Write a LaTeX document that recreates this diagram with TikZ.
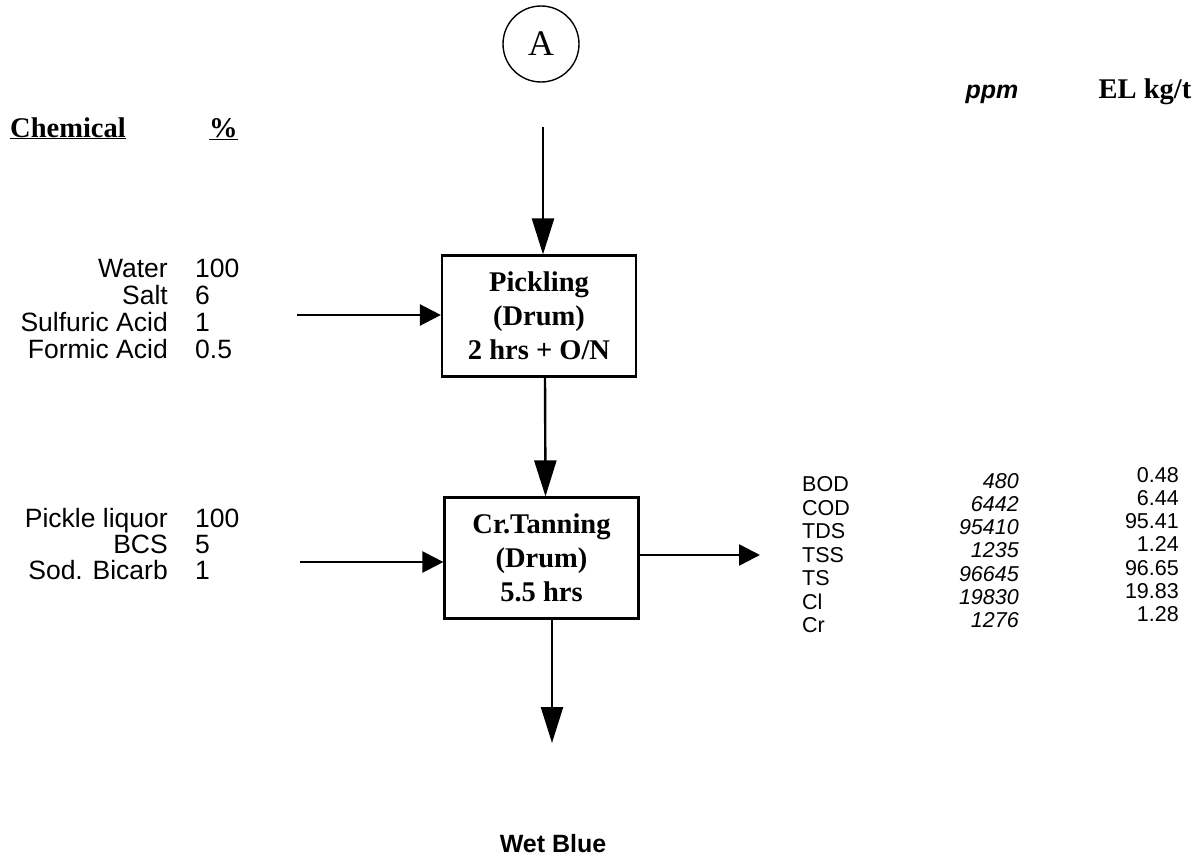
\documentclass[tikz,border=0pt]{standalone}
\usepackage{fontspec}
\setmainfont{Liberation Serif}
\setsansfont{Liberation Sans}
\usetikzlibrary{arrows.meta}
\begin{document}
\begin{tikzpicture}[x=1pt,y=-1pt,
  proc/.style={draw,line width=2.2pt,minimum width=194pt,minimum height=121pt,
    font=\fontsize{28.5}{34}\selectfont\bfseries,align=center,inner sep=0pt},
  vflow/.style={line width=2.4pt,-{Triangle[length=36pt,width=22pt]}},
  hflow/.style={line width=2.4pt,-{Triangle[length=21pt,width=21pt]}},
  lbl/.style={font=\sffamily\fontsize{26.5}{27}\selectfont,inner sep=0pt},
  tbl/.style={font=\sffamily\fontsize{21.5}{23}\selectfont,inner sep=0pt},
  tbli/.style={font=\sffamily\itshape\fontsize{21.5}{23}\selectfont,inner sep=0pt},
  hdr/.style={font=\bfseries\fontsize{28.5}{30}\selectfont,inner sep=0pt}
]
\useasboundingbox (0,0) rectangle (1202,859);

% connector circle
\node[draw,circle,line width=1.4pt,minimum size=76pt,inner sep=0pt,
      font=\fontsize{36}{38}\selectfont] (A) at (541,44) {A};

% process boxes
\node[proc] (pick) at (539,316) {Pickling\\(Drum)\\2 hrs + O/N};
\node[proc] (tan) at (541.5,558) {Cr.Tanning\\(Drum)\\5.5 hrs};

% free ends
\coordinate (topin) at (543,127);
\coordinate (in1) at (297,315);
\coordinate (in2) at (300,562);
\coordinate (out) at (760,555);
\coordinate (bot) at (552,743);

\draw[vflow] (topin) -- (topin |- pick.north);
\draw[hflow] (in1) -- (in1 -| pick.west);
\draw[vflow] ([xshift=6pt]pick.south) -- ([xshift=4pt]tan.north);
\draw[hflow] (in2) -- (in2 -| tan.west);
\draw[hflow] (out -| tan.east) -- (out);
\draw[vflow] (bot |- tan.south) -- (bot);

% headers
\node[hdr,anchor=base west] (chem) at (10,137) {\underline{Chemical}};
\node[hdr,anchor=base west] (pct) at (209,137) {\underline{\%}};
\node[font=\sffamily\bfseries\itshape\fontsize{25}{27}\selectfont,inner sep=0pt,anchor=base] (ppm) at (992,99) {ppm};
\node[hdr,anchor=base] (el) at (1145,99) {EL kg/t};

% pickling chemicals
\foreach \n/\v/\y [count=\i] in {Water/100/277, Salt/6/304, Sulfuric Acid/1/331, Formic Acid/0.5/358}{
  \node[lbl,anchor=base east] (pn\i) at (168,\y) {\n};
  \node[lbl,anchor=base west] (pv\i) at (195,\y) {\v};
}
% tanning chemicals
\foreach \n/\v/\y [count=\i] in {Pickle liquor/100/527, BCS/5/553, Sod. Bicarb/1/579}{
  \node[lbl,anchor=base east] (tn\i) at (168,\y) {\n};
  \node[lbl,anchor=base west] (tv\i) at (195,\y) {\v};
}

% effluent table
\foreach \n/\p/\e [count=\i from 0] in {BOD/480/0.48, COD/6442/6.44, TDS/95410/95.41, TSS/1235/1.24, TS/96645/96.65, Cl/19830/19.83, Cr/1276/1.28}{
  \node[tbl,anchor=base west] (en\i) at (802,491.5+23.5*\i) {\n};
  \node[tbli,anchor=base east] (ep\i) at (1019,488+23.3*\i) {\p};
  \node[tbl,anchor=base east] (ee\i) at (1179,482+23.3*\i) {\e};
}

% product
\node[font=\sffamily\bfseries\fontsize{25}{27}\selectfont,inner sep=0pt,anchor=base] (wb) at (553,852) {Wet Blue};
\end{tikzpicture}
\end{document}
